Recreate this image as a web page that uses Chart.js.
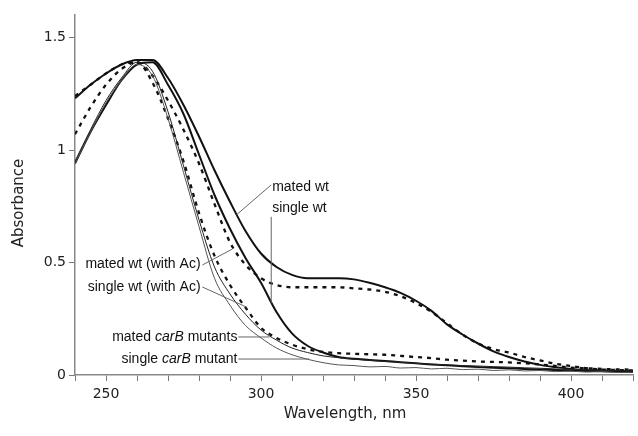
<!DOCTYPE html>
<html>
<head>
<meta charset="utf-8">
<script src="https://cdn.jsdelivr.net/npm/chart.js@4.4.0/dist/chart.umd.min.js"></script>
<style>
  html, body { margin: 0; padding: 0; background: #fff; }
  #wrap { width: 638px; height: 436px; }
</style>
</head>
<body>
<div id="wrap"><canvas id="chart" width="638" height="436"></canvas></div>
<script>
// wavelength grid (nm)
const WAVELENGTH = [240, 245, 250, 255, 260, 265, 270, 275, 280, 285, 290, 295, 300, 305, 310, 315, 320, 325, 330,
  335, 340, 345, 350, 355, 360, 365, 370, 375, 380, 385, 390, 395, 400, 405, 410, 415, 420];

// absorbance per sample
const MATED_WT = [1.23, 1.29, 1.34, 1.38, 1.40, 1.40, 1.32, 1.20, 1.06, 0.91, 0.77, 0.64, 0.54, 0.48, 0.445, 0.43, 0.43,
  0.43, 0.425, 0.41, 0.39, 0.365, 0.33, 0.285, 0.225, 0.18, 0.14, 0.105, 0.08, 0.06, 0.045, 0.035, 0.027, 0.022, 0.02, 0.017, 0.015];
const SINGLE_WT = [0.94, 1.08, 1.20, 1.31, 1.38, 1.39, 1.29, 1.16, 0.98, 0.80, 0.65, 0.52, 0.41, 0.28, 0.185, 0.13, 0.10,
  0.08, 0.072, 0.067, 0.062, 0.057, 0.052, 0.047, 0.043, 0.039, 0.035, 0.032, 0.03, 0.027, 0.025, 0.022, 0.02, 0.018, 0.017, 0.015, 0.013];
const MATED_WT_AC = [1.07, 1.19, 1.29, 1.36, 1.39, 1.33, 1.22, 1.09, 0.94, 0.76, 0.59, 0.49, 0.43, 0.40, 0.39, 0.39, 0.39,
  0.39, 0.385, 0.38, 0.37, 0.35, 0.32, 0.28, 0.23, 0.18, 0.14, 0.115, 0.10, 0.08, 0.065, 0.05, 0.04, 0.03, 0.025, 0.022, 0.02];
const SINGLE_WT_AC = [1.24, 1.29, 1.34, 1.38, 1.39, 1.30, 1.14, 0.95, 0.72, 0.53, 0.40, 0.30, 0.21, 0.165, 0.135, 0.115, 0.103,
  0.097, 0.094, 0.092, 0.09, 0.085, 0.08, 0.075, 0.068, 0.064, 0.06, 0.058, 0.056, 0.052, 0.047, 0.04, 0.033, 0.03, 0.027, 0.025, 0.024];
const MATED_CARB = [0.95, 1.09, 1.22, 1.32, 1.39, 1.35, 1.17, 0.93, 0.69, 0.48, 0.36, 0.27, 0.20, 0.155, 0.12, 0.10, 0.085,
  0.077, 0.07, 0.065, 0.06, 0.056, 0.052, 0.048, 0.045, 0.042, 0.04, 0.037, 0.035, 0.032, 0.03, 0.027, 0.025, 0.022, 0.02, 0.019, 0.018];
const SINGLE_CARB = [0.94, 1.08, 1.21, 1.31, 1.38, 1.33, 1.14, 0.90, 0.66, 0.43, 0.31, 0.22, 0.165, 0.12, 0.09, 0.07, 0.055,
  0.045, 0.042, 0.036, 0.038, 0.031, 0.033, 0.027, 0.03, 0.024, 0.026, 0.02, 0.023, 0.018, 0.02, 0.015, 0.017, 0.013, 0.015, 0.011, 0.012];

// axis ticks
const X_TICKS = [240, 250, 260, 270, 280, 290, 300, 310, 320, 330, 340, 350, 360, 370, 380, 390, 400, 410, 420];
const X_LABELS = [250, 300, 350, 400];
const Y_TICKS = [0, 0.5, 1, 1.5];

// callouts: label anchor and pointer ends in data units
const NOTES = [
  { parts: [['mated wt', false]], align: 'left', at: [303.6, 0.836], from: [303.3, 0.845], to: [292.1, 0.712] },
  { parts: [['single wt', false]], align: 'left', at: [303.6, 0.743], from: [303.3, 0.703], to: [303.3, 0.32] },
  { parts: [['mated wt (with Ac)', false]], align: 'right', at: [280.5, 0.494], from: [281.1, 0.489], to: [290.8, 0.56] },
  { parts: [['single wt (with Ac)', false]], align: 'right', at: [280.5, 0.391], from: [281.1, 0.391], to: [295.3, 0.302] },
  { parts: [['mated ', false], ['carB', true], [' mutants', false]], align: 'right', at: [292.4, 0.169], from: [292.7, 0.169], to: [302.7, 0.169] },
  { parts: [['single ', false], ['carB', true], [' mutant', false]], align: 'right', at: [292.4, 0.071], from: [292.7, 0.071], to: [315.5, 0.071] }
];

const pts = arr => WAVELENGTH.map((w, i) => ({ x: w, y: arr[i] }));

function series(values, color, width, dash) {
    return {
        data: pts(values),
        borderColor: color,
        borderWidth: width,
        borderDash: dash || [],
        borderCapStyle: 'butt',
        pointRadius: 0,
        fill: false,
        cubicInterpolationMode: 'monotone'
    };
}

const calloutPlugin = {
    id: 'callouts',
    afterDraw(chart) {
        const { ctx } = chart;
        const x = chart.scales.x, y = chart.scales.y;
        ctx.save();
        // axis titles
        ctx.fillStyle = '#222';
        ctx.font = '15px "DejaVu Sans"';
        ctx.textAlign = 'center';
        ctx.textBaseline = 'middle';
        ctx.fillText('Wavelength, nm', 345, 414);
        ctx.save();
        ctx.translate(19, 203);
        ctx.rotate(-Math.PI / 2);
        ctx.fillText('Absorbance', 0, 0);
        ctx.restore();

        // pointers
        ctx.strokeStyle = '#666';
        ctx.lineWidth = 1;
        NOTES.forEach(n => {
            ctx.beginPath();
            ctx.moveTo(x.getPixelForValue(n.from[0]), y.getPixelForValue(n.from[1]));
            ctx.lineTo(x.getPixelForValue(n.to[0]), y.getPixelForValue(n.to[1]));
            ctx.stroke();
        });

        // labels
        ctx.fillStyle = '#111';
        ctx.textAlign = 'left';
        ctx.textBaseline = 'middle';
        NOTES.forEach(n => {
            const fonts = n.parts.map(p => (p[1] ? 'italic ' : '') + '14px "Liberation Sans", Arial, sans-serif');
            const widths = n.parts.map((p, i) => { ctx.font = fonts[i]; return ctx.measureText(p[0]).width; });
            const total = widths.reduce((a, b) => a + b, 0);
            let px = x.getPixelForValue(n.at[0]);
            const py = y.getPixelForValue(n.at[1]);
            if (n.align === 'right') px -= total;
            n.parts.forEach((p, i) => {
                ctx.font = fonts[i];
                ctx.fillText(p[0], px, py);
                px += widths[i];
            });
        });
        ctx.restore();
    }
};

new Chart(document.getElementById('chart'), {
    type: 'line',
    data: {
        datasets: [
            series(SINGLE_CARB, '#555', 1),
            series(MATED_CARB, '#222', 1),
            series(SINGLE_WT_AC, '#111', 2.3, [4, 5]),
            series(MATED_WT_AC, '#111', 2.3, [4, 5]),
            series(SINGLE_WT, '#111', 2),
            series(MATED_WT, '#111', 2)
        ]
    },
    options: {
        responsive: false,
        animation: false,
        devicePixelRatio: 1,
        layout: { padding: { top: 15, right: 4, left: 0, bottom: 0 } },
        plugins: { legend: { display: false }, tooltip: { enabled: false } },
        scales: {
            x: {
                type: 'linear',
                min: 240,
                max: 420,
                afterBuildTicks: s => { s.ticks = X_TICKS.map(v => ({ value: v })); },
                afterFit: s => { s.height = 61; },
                ticks: {
                    autoSkip: false,
                    maxRotation: 0,
                    padding: 5,
                    color: '#222',
                    font: { family: 'DejaVu Sans', size: 14 },
                    callback: v => (X_LABELS.includes(v) ? String(v) : '')
                },
                grid: { drawOnChartArea: false, drawTicks: true, tickLength: 6, color: '#777' },
                border: { display: true, color: '#888', width: 1.5 }
            },
            y: {
                min: 0,
                max: 1.6,
                afterBuildTicks: s => { s.ticks = Y_TICKS.map(v => ({ value: v })); },
                afterFit: s => { s.width = 75; },
                ticks: {
                    padding: 3,
                    color: '#222',
                    font: { family: 'DejaVu Sans', size: 14 },
                    callback: v => String(v)
                },
                grid: { drawOnChartArea: false, drawTicks: true, tickLength: 6, color: '#777' },
                border: { display: true, color: '#888', width: 1.5 }
            }
        }
    },
    plugins: [calloutPlugin]
});
</script>
</body>
</html>
